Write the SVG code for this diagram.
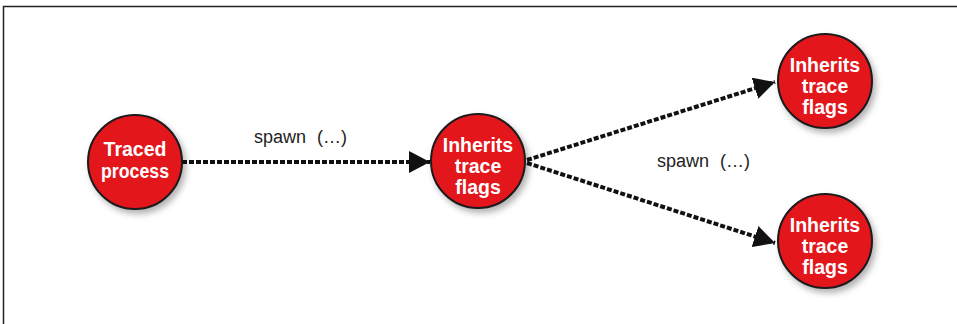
<svg xmlns="http://www.w3.org/2000/svg" width="957" height="324" viewBox="0 0 957 324">
<defs>
<style>
.node circle{fill:#e3141c;stroke:#1a1a1a;stroke-width:2;filter:url(#sh)}
.node text{fill:#fff;font-family:"Liberation Sans",Arial,sans-serif;font-weight:bold;font-size:19.5px;text-anchor:middle}
.edge{stroke:#111;stroke-width:4;stroke-dasharray:5 2;fill:none;marker-end:url(#ah)}
.lbl{font-family:"Liberation Sans",Arial,sans-serif;font-size:18px;fill:#222}
</style>
<filter id="sh" x="-30%" y="-30%" width="160%" height="160%">
<feDropShadow dx="3" dy="4" stdDeviation="3" flood-color="#000" flood-opacity="0.3"/>
</filter>
<marker id="ah" viewBox="0 0 21 22" refX="21" refY="11" markerWidth="21" markerHeight="22" markerUnits="userSpaceOnUse" orient="auto">
<path d="M0,0 L21,11 L0,22 z" fill="#111"/>
</marker>
</defs>
<rect width="957" height="324" fill="#fff"/>
<path d="M3.5,324 V6.5 H957" fill="none" stroke="#222" stroke-width="1.5"/>
<g id="connectors">
<line class="edge" x1="182" y1="162" x2="430" y2="162"/>
<line class="edge" x1="527" y1="160" x2="775" y2="82"/>
<line class="edge" x1="527" y1="163" x2="775" y2="243"/>
<text class="lbl" x="254" y="143">spawn <tspan dx="6">(…)</tspan></text>
<text class="lbl" x="657" y="167">spawn <tspan dx="6">(…)</tspan></text>
</g>
<g id="traced" class="node">
<circle cx="135" cy="162" r="47"/>
<text x="135" y="156">Traced</text>
<text x="135" y="178" textLength="68" lengthAdjust="spacingAndGlyphs">process</text>
</g>
<g id="child" class="node">
<circle cx="478" cy="161" r="47"/>
<text x="478" y="152">Inherits</text>
<text x="478" y="173">trace</text>
<text x="478" y="194">flags</text>
</g>
<g id="grandchild1" class="node">
<circle cx="825" cy="81" r="47"/>
<text x="825" y="72">Inherits</text>
<text x="825" y="93">trace</text>
<text x="825" y="114">flags</text>
</g>
<g id="grandchild2" class="node">
<circle cx="825" cy="241" r="47"/>
<text x="825" y="232">Inherits</text>
<text x="825" y="253">trace</text>
<text x="825" y="274">flags</text>
</g>
</svg>
